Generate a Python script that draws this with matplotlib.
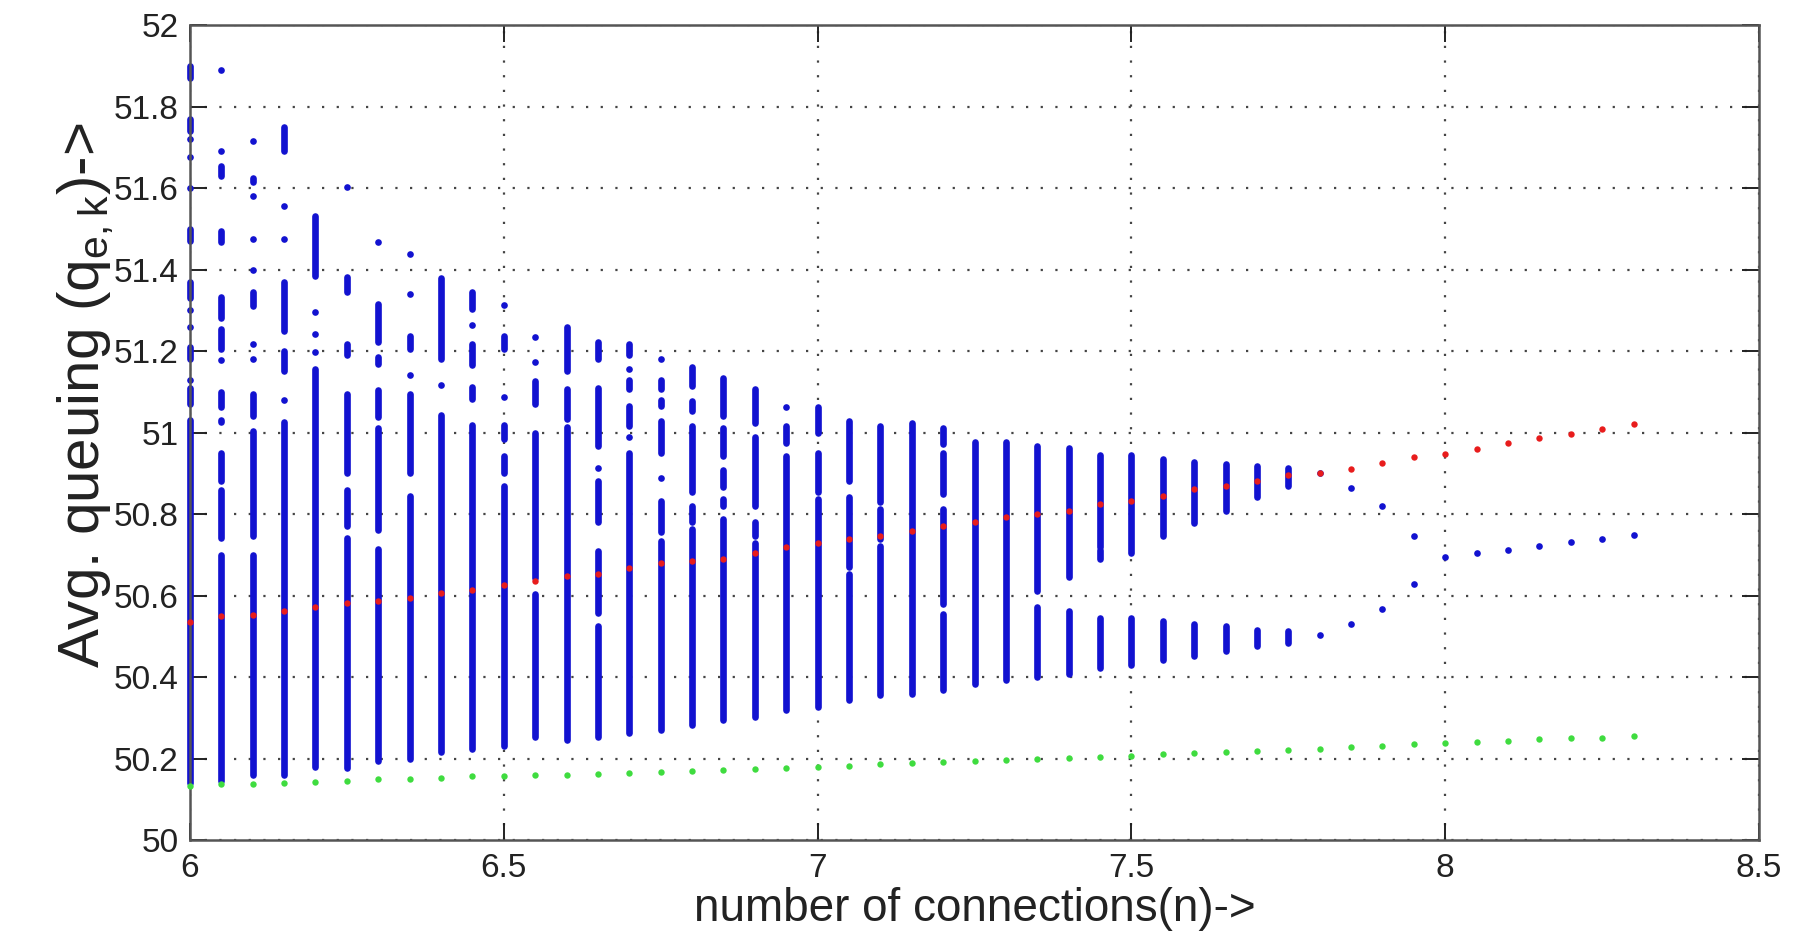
import numpy as np
import matplotlib
matplotlib.use("Agg")
import matplotlib.pyplot as plt
from matplotlib.ticker import FormatStrFormatter

plt.rcParams['font.family'] = ['Liberation Sans', 'DejaVu Sans']

# number of connections (one column of samples per value)
n_values = [6.00, 6.05, 6.10, 6.15, 6.20, 6.25, 6.30, 6.35, 6.40, 6.45,
            6.50, 6.55, 6.60, 6.65, 6.70, 6.75, 6.80, 6.85, 6.90, 6.95,
            7.00, 7.05, 7.10, 7.15, 7.20, 7.25, 7.30, 7.35, 7.40, 7.45,
            7.50, 7.55, 7.60, 7.65, 7.70, 7.75, 7.80, 7.85, 7.90, 7.95,
            8.00, 8.05, 8.10, 8.15, 8.20, 8.25, 8.30]

# red: average queue
mean_queue = [50.534, 50.550, 50.552, 50.562, 50.571, 50.581, 50.587, 50.595, 50.606, 50.614,
              50.627, 50.636, 50.648, 50.652, 50.668, 50.680, 50.685, 50.690, 50.705, 50.718,
              50.730, 50.739, 50.747, 50.759, 50.771, 50.781, 50.792, 50.800, 50.808, 50.825,
              50.833, 50.845, 50.862, 50.870, 50.882, 50.895, 50.900, 50.910, 50.926, 50.940,
              50.948, 50.960, 50.974, 50.987, 50.997, 51.009, 51.020]

# green: lower bound
min_queue = [50.133, 50.137, 50.137, 50.141, 50.143, 50.145, 50.149, 50.150, 50.153, 50.156,
             50.158, 50.159, 50.160, 50.163, 50.165, 50.167, 50.169, 50.171, 50.175, 50.178,
             50.179, 50.182, 50.186, 50.190, 50.192, 50.194, 50.197, 50.199, 50.201, 50.203,
             50.207, 50.211, 50.213, 50.216, 50.218, 50.221, 50.223, 50.228, 50.232, 50.235,
             50.239, 50.241, 50.242, 50.247, 50.250, 50.251, 50.255]

# blue: sampled queue values, as runs (n, low, high); low == high is a single sample
queue_runs = [
    (6.00, 51.87, 51.90), (6.00, 51.74, 51.77), (6.00, 51.72, 51.72), (6.00, 51.675, 51.675),
    (6.00, 51.60, 51.60), (6.00, 51.47, 51.50), (6.00, 51.33, 51.37), (6.00, 51.30, 51.30),
    (6.00, 51.26, 51.26), (6.00, 51.18, 51.21), (6.00, 51.13, 51.13), (6.00, 51.07, 51.11),
    (6.00, 50.14, 51.03),
    (6.05, 51.89, 51.89), (6.05, 51.69, 51.69), (6.05, 51.63, 51.655), (6.05, 51.467, 51.495),
    (6.05, 51.28, 51.332), (6.05, 51.206, 51.255), (6.05, 51.177, 51.177), (6.05, 51.063, 51.10),
    (6.05, 51.026, 51.03), (6.05, 50.88, 50.95), (6.05, 50.74, 50.86), (6.05, 50.145, 50.70),
    (6.10, 51.716, 51.716), (6.10, 51.614, 51.624), (6.10, 51.58, 51.58), (6.10, 51.475, 51.475),
    (6.10, 51.40, 51.40), (6.10, 51.31, 51.345), (6.10, 51.218, 51.218), (6.10, 51.18, 51.18),
    (6.10, 51.04, 51.095), (6.10, 50.746, 51.004), (6.10, 50.16, 50.70),
    (6.15, 51.69, 51.75), (6.15, 51.557, 51.557), (6.15, 51.475, 51.475), (6.15, 51.25, 51.37),
    (6.15, 51.15, 51.20), (6.15, 51.08, 51.08), (6.15, 50.16, 51.025),
    (6.20, 51.385, 51.532), (6.20, 51.295, 51.295), (6.20, 51.242, 51.242), (6.20, 51.198, 51.198),
    (6.20, 50.18, 51.157),
    (6.25, 51.602, 51.602), (6.25, 51.345, 51.381), (6.25, 51.19, 51.218), (6.25, 50.90, 51.095),
    (6.25, 50.77, 50.86), (6.25, 50.178, 50.74),
    (6.30, 51.467, 51.467), (6.30, 51.222, 51.316), (6.30, 51.169, 51.185), (6.30, 51.038, 51.104),
    (6.30, 50.76, 51.01), (6.30, 50.194, 50.714),
    (6.35, 51.438, 51.438), (6.35, 51.34, 51.34), (6.35, 51.206, 51.238), (6.35, 51.14, 51.14),
    (6.35, 50.90, 51.095), (6.35, 50.20, 50.845),
    (6.40, 51.18, 51.38), (6.40, 51.116, 51.116), (6.40, 50.215, 51.042),
    (6.45, 51.304, 51.344), (6.45, 51.263, 51.263), (6.45, 51.165, 51.218), (6.45, 51.083, 51.112),
    (6.45, 50.223, 51.018),
    (6.50, 51.312, 51.312), (6.50, 51.206, 51.238), (6.50, 51.087, 51.087), (6.50, 50.984, 51.018),
    (6.50, 50.90, 50.943), (6.50, 50.23, 50.87),
    (6.55, 51.234, 51.234), (6.55, 51.172, 51.172), (6.55, 51.07, 51.127), (6.55, 50.644, 51.00),
    (6.55, 50.253, 50.603),
    (6.60, 51.152, 51.259), (6.60, 51.033, 51.107), (6.60, 50.245, 51.013),
    (6.65, 51.18, 51.222), (6.65, 50.967, 51.11), (6.65, 50.913, 50.913), (6.65, 50.78, 50.88),
    (6.65, 50.557, 50.71), (6.65, 50.253, 50.525),
    (6.70, 51.19, 51.218), (6.70, 51.156, 51.156), (6.70, 51.107, 51.13), (6.70, 51.016, 51.065),
    (6.70, 50.99, 50.99), (6.70, 50.262, 50.95),
    (6.75, 51.18, 51.18), (6.75, 51.107, 51.13), (6.75, 51.066, 51.08), (6.75, 50.95, 51.028),
    (6.75, 50.889, 50.889), (6.75, 50.755, 50.833), (6.75, 50.27, 50.735),
    (6.80, 51.115, 51.16), (6.80, 51.053, 51.078), (6.80, 50.853, 51.016), (6.80, 50.78, 50.82),
    (6.80, 50.282, 50.763),
    (6.85, 51.04, 51.135), (6.85, 50.942, 51.012), (6.85, 50.867, 50.909), (6.85, 50.82, 50.837),
    (6.85, 50.294, 50.787),
    (6.90, 51.024, 51.107), (6.90, 50.82, 50.99), (6.90, 50.746, 50.78), (6.90, 50.303, 50.73),
    (6.95, 51.063, 51.063), (6.95, 50.975, 51.016), (6.95, 50.319, 50.942),
    (7.00, 51.00, 51.063), (7.00, 50.853, 50.95), (7.00, 50.327, 50.837),
    (7.05, 50.882, 51.029), (7.05, 50.669, 50.841), (7.05, 50.343, 50.653),
    (7.10, 50.829, 51.016), (7.10, 50.739, 50.812), (7.10, 50.355, 50.722),
    (7.15, 50.359, 51.024),
    (7.20, 50.971, 51.012), (7.20, 50.849, 50.951), (7.20, 50.58, 50.812), (7.20, 50.367, 50.555),
    (7.25, 50.384, 50.976),
    (7.30, 50.392, 50.976),
    (7.35, 50.612, 50.967), (7.35, 50.40, 50.571),
    (7.40, 50.645, 50.963), (7.40, 50.408, 50.563),
    (7.45, 50.72, 50.944), (7.45, 50.689, 50.712), (7.45, 50.422, 50.545),
    (7.50, 50.705, 50.944), (7.50, 50.43, 50.545),
    (7.55, 50.747, 50.936), (7.55, 50.442, 50.537),
    (7.60, 50.779, 50.927), (7.60, 50.451, 50.529),
    (7.65, 50.808, 50.923), (7.65, 50.463, 50.525),
    (7.70, 50.841, 50.919), (7.70, 50.475, 50.516),
    (7.75, 50.87, 50.913), (7.75, 50.484, 50.512),
    (7.80, 50.90, 50.90), (7.80, 50.502, 50.502),
    (7.85, 50.864, 50.864), (7.85, 50.53, 50.53),
    (7.90, 50.819, 50.819), (7.90, 50.568, 50.568),
    (7.95, 50.746, 50.746), (7.95, 50.629, 50.629),
    (8.00, 50.695, 50.695), (8.05, 50.705, 50.705), (8.10, 50.712, 50.712),
    (8.15, 50.722, 50.722), (8.20, 50.731, 50.731), (8.25, 50.739, 50.739),
    (8.30, 50.748, 50.748),
]

x_ticks = [6, 6.5, 7, 7.5, 8, 8.5]
y_ticks = [50, 50.2, 50.4, 50.6, 50.8, 51, 51.2, 51.4, 51.6, 51.8, 52]

blue = '#1212d0'
red = '#e81c1c'
green = '#3fdc3f'
dot = 4.8

fig = plt.figure(figsize=(18.09, 9.31), dpi=100)
ax = fig.add_axes([0.1050, 0.0977, 0.8674, 0.8754])

runs = np.array(queue_runs)
solid = runs[:, 2] > runs[:, 1]
ax.vlines(runs[solid, 0], runs[solid, 1], runs[solid, 2], colors=blue,
          linewidth=dot, capstyle='round', clip_on=False, zorder=2)
ax.plot(runs[~solid, 0], runs[~solid, 1], 'o', ms=dot, color=blue, mec='none',
        clip_on=False, zorder=2)
ax.plot(n_values, mean_queue, 'o', ms=4.6, color=red, mec='none', clip_on=False, zorder=3)
ax.plot(n_values, min_queue, 'o', ms=4.6, color=green, mec='none', clip_on=False, zorder=3)

ax.set_xlim(6, 8.5)
ax.set_ylim(50, 52)
ax.set_xticks(x_ticks)
ax.set_yticks(y_ticks)
ax.xaxis.set_major_formatter(FormatStrFormatter('%g'))
ax.yaxis.set_major_formatter(FormatStrFormatter('%g'))

ax.grid(True, color='#444444', linewidth=1.6, linestyle=(0, (1.0, 5.6)))
ax.set_axisbelow(True)
ax.tick_params(direction='in', length=12, width=1.4, top=True, right=True,
               labelsize=24, colors='#222222')
ax.tick_params(axis='y', pad=8)
ax.tick_params(axis='x', pad=9)
for s in ax.spines.values():
    s.set_color('#555555')
    s.set_linewidth(1.8)

ax.set_xlabel('number of connections(n)->', fontsize=33, color='#222222', va='center')
ax.set_ylabel(r'Avg. queuing (q$_{\mathregular{e,k}}$)->', fontsize=42, color='#222222',
              va='center')
ax.xaxis.set_label_coords(0.5, -0.085)
ax.yaxis.set_label_coords(-0.0665, 0.546)

fig.savefig('out.png', dpi=100)
